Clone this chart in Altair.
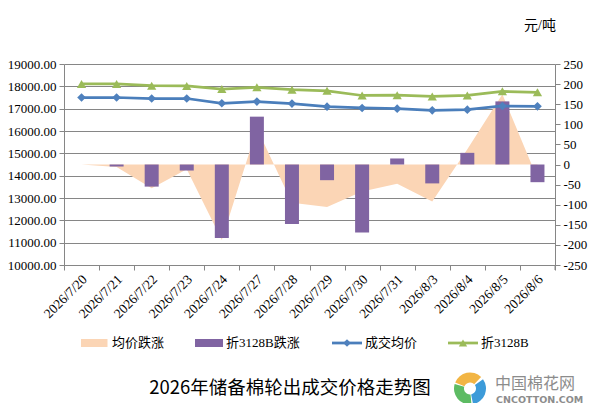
import altair as alt
import pandas as pd

# 储备棉轮出成交数据
dates = ["2026/7/20", "2026/7/21", "2026/7/22", "2026/7/23", "2026/7/24", "2026/7/27", "2026/7/28",
         "2026/7/29", "2026/7/30", "2026/7/31", "2026/8/3", "2026/8/4", "2026/8/5", "2026/8/6"]
avg_price = [17500, 17500, 17455, 17455, 17242, 17318, 17227, 17090, 17030, 17000, 16925, 16955, 17120, 17105]
price_3128b = [18106, 18106, 18030, 18015, 17880, 17955, 17850, 17800, 17590, 17605, 17545, 17590, 17775, 17730]
avg_change = [0, -6, -59, -12, -188, 90, -95, -106, -67, -48, -92, 38, 175, -35]
change_3128b = [None, -5, -55, -15, -183, 119, -148, -39, -169, 15, -47, 29, 157, -44]

left_ticks = list(range(10000, 19001, 1000))
right_ticks = list(range(-250, 251, 50))

series_names = ["均价跌涨", "折3128B跌涨", "成交均价", "折3128B"]
series_colors = ["#FBD5B5", "#8064A2", "#4A7EBB", "#9BBB59"]

title_text = "2026年储备棉轮出成交价格走势图"
unit_text = "元/吨"
brand_cn = "中国棉花网"
brand_en = "CNCOTTON.COM"

df = pd.DataFrame({
    "date": dates,
    "avg": avg_price,
    "b3128": price_3128b,
    "avg_chg": avg_change,
    "b_chg": change_3128b,
})

FONT = "Liberation Serif, Noto Sans CJK SC"
GRAY = "#868686"

x_enc = alt.X("date:N", sort=dates, title=None,
              scale=alt.Scale(paddingInner=0, paddingOuter=0),
              axis=alt.Axis(tickBand="extent", labelAngle=-45, labelAlign="right",
                            labelBaseline="middle", labelPadding=7, labelOffset=3,
                            labelFontSize=13.5, tickSize=5, grid=False))

right_axis = alt.Axis(orient="right", values=right_ticks, grid=False, title=None,
                      labelExpr="datum.value + ''", tickSize=5, labelPadding=3)
right_scale = alt.Scale(domain=[-250, 250], nice=False, zero=False)

area = alt.Chart(df).mark_area(color=series_colors[0]).encode(
    x=x_enc,
    y=alt.Y("avg_chg:Q", scale=right_scale, axis=right_axis),
    y2=alt.datum(0),
)
bars = alt.Chart(df).mark_bar(color=series_colors[1], size=14).encode(
    x=x_enc,
    y=alt.Y("b_chg:Q", scale=right_scale, axis=right_axis),
    y2=alt.datum(0),
)
right_layer = alt.layer(area, bars)

left_axis = alt.Axis(orient="left", values=left_ticks, format=".2f", grid=True,
                     gridColor=GRAY, title=None, tickSize=5, labelPadding=3)
left_scale = alt.Scale(domain=[10000, 19000], nice=False, zero=False)

blue = alt.Chart(df).mark_line(
    color=series_colors[2], strokeWidth=2.75,
    point=alt.OverlayMarkDef(shape="diamond", size=75, filled=True, color="#4F81BD")
).encode(x=x_enc, y=alt.Y("avg:Q", scale=left_scale, axis=left_axis))

green = alt.Chart(df).mark_line(
    color=series_colors[3], strokeWidth=2.75,
    point=alt.OverlayMarkDef(shape="triangle-up", size=85, filled=True, color=series_colors[3])
).encode(x=x_enc, y=alt.Y("b3128:Q", scale=left_scale, axis=left_axis))

left_layer = alt.layer(blue, green)

one = pd.DataFrame({"k": [0]})

# 图例
leg_y = 279
leg = [
    alt.Chart(one).mark_rect(color=series_colors[0]).encode(
        x=alt.value(17), x2=alt.value(43.5), y=alt.value(leg_y - 4), y2=alt.value(leg_y + 4)),
    alt.Chart(one).mark_rect(color=series_colors[1]).encode(
        x=alt.value(131), x2=alt.value(159), y=alt.value(leg_y - 4), y2=alt.value(leg_y + 4)),
    alt.Chart(one).mark_rule(color=series_colors[2], strokeWidth=2.75).encode(
        x=alt.value(268), x2=alt.value(298), y=alt.value(leg_y)),
    alt.Chart(one).mark_point(shape="diamond", size=60, filled=True, color="#4F81BD", opacity=1).encode(
        x=alt.value(283), y=alt.value(leg_y)),
    alt.Chart(one).mark_rule(color=series_colors[3], strokeWidth=2.75).encode(
        x=alt.value(384), x2=alt.value(414), y=alt.value(leg_y)),
    alt.Chart(one).mark_point(shape="triangle-up", size=70, filled=True, color=series_colors[3], opacity=1).encode(
        x=alt.value(399), y=alt.value(leg_y)),
]
for name, lx in zip(series_names, [48, 162, 301, 417]):
    leg.append(alt.Chart(one).mark_text(text=name, font=FONT, fontSize=13, align="left",
                                        baseline="middle", color="black").encode(
        x=alt.value(lx), y=alt.value(leg_y)))

extras = [
    alt.Chart(one).mark_text(text=unit_text, font=FONT, fontSize=14, align="center",
                             baseline="middle", color="black").encode(
        x=alt.value(476), y=alt.value(-38.5)),
    alt.Chart(one).mark_text(text=title_text, font="Noto Sans CJK SC", fontSize=18.5,
                             align="center", baseline="middle", color="black").encode(
        x=alt.value(226), y=alt.value(323.5)),
    alt.Chart(one).mark_rule(color=GRAY).encode(
        x=alt.value(491), y=alt.value(201), y2=alt.value(206)),
    # 网站标志
    alt.Chart(one).mark_arc(color="#F2B544", theta=5.1, theta2=7.05, radius=16, radius2=6).encode(
        x=alt.value(406), y=alt.value(324.5)),
    alt.Chart(one).mark_arc(color="#3D9BD9", theta=0.95, theta2=2.95, radius=16, radius2=6).encode(
        x=alt.value(406), y=alt.value(324.5)),
    alt.Chart(one).mark_arc(color="#5DBB63", theta=3.05, theta2=5.0, radius=16, radius2=6).encode(
        x=alt.value(406), y=alt.value(324.5)),
    alt.Chart(one).mark_text(text=brand_cn, font="Noto Sans CJK SC", fontSize=16, align="left",
                             baseline="middle", color="#8C8C8C").encode(
        x=alt.value(431), y=alt.value(319.5)),
    alt.Chart(one).mark_text(text=brand_en, font="DejaVu Sans", fontSize=9.5, fontWeight="bold",
                             align="left", baseline="middle", color="#8C8C8C").encode(
        x=alt.value(432), y=alt.value(335.5)),
]

chart = alt.layer(right_layer, left_layer, *leg, *extras).resolve_scale(
    y="independent"
).properties(
    width=491,
    height=201,
    autosize=alt.AutoSizeParams(type="none"),
    padding={"left": 56, "top": 56, "right": 36, "bottom": 138},
).configure_view(stroke=None).configure_axis(
    domainColor=GRAY, tickColor=GRAY, labelColor="black",
    labelFont="Liberation Serif", labelFontSize=13,
)

chart.save("out.html", embed_options={"renderer": "svg", "actions": False})
